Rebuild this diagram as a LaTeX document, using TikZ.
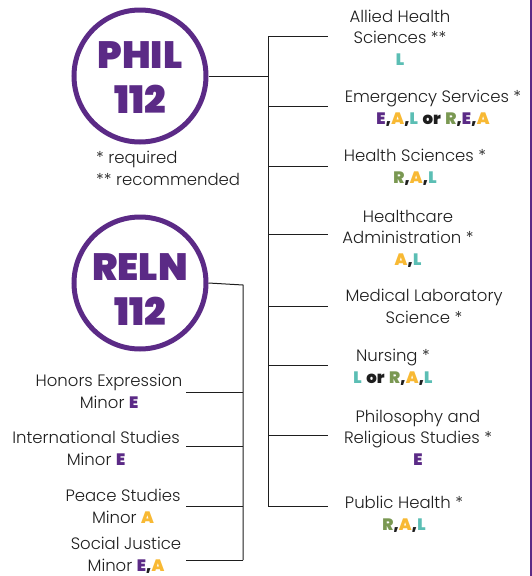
\documentclass[tikz,border=0pt]{standalone}
\usepackage{fontspec}
\setmainfont{Poppins Light}
\newfontfamily\heavy{Poppins Black}
\definecolor{cpurple}{RGB}{91,42,134}
\definecolor{cyellow}{RGB}{248,185,52}
\definecolor{cteal}{RGB}{91,190,180}
\definecolor{cgreen}{RGB}{122,152,82}
\definecolor{ink}{RGB}{30,30,30}
% coloured requirement letters
\newcommand\ltrfont{\heavy\fontsize{16.5}{21.5}\selectfont}
\newcommand\ltrE{{\ltrfont\color{cpurple}E}}
\newcommand\ltrA{{\ltrfont\color{cyellow}A}}
\newcommand\ltrL{{\ltrfont\color{cteal}L}}
\newcommand\ltrR{{\ltrfont\color{cgreen}R}}
\newcommand\cm{{\ltrfont\color{ink},}}
\newcommand\orw{{\ltrfont\color{ink}or}}
\begin{document}
\begin{tikzpicture}[x=1pt,y=-1pt,
  ring/.style={circle,draw=cpurple,line width=5pt,minimum size=132pt,inner sep=0pt},
  ringtext/.style={align=center,text=cpurple,inner sep=0pt,
    font=\heavy\fontsize{38}{45}\selectfont},
  item/.style={align=center,anchor=base,inner sep=0pt,text=ink,
    font=\fontsize{16.5}{21.5}\selectfont},
  wire/.style={draw=ink,line width=1pt}]
\useasboundingbox (0,0) rectangle (532,576);
% page edge rule
\draw[cpurple,line width=1.5pt] (531,0) -- (531,576);

% course circles
\node[ring] (phil) at (140,76) {};
\node[ringtext] (philname) at (140,78) {PHIL\\112};
\node[ring] (reln) at (140,283) {};
\node[ringtext] (relnname) at (140,290) {RELN\\112};

% legend (positions are last-line baselines)
\node[item,anchor=base west,align=left] (legend) at (96,185) {* required\\** recommended};

% majors reached from PHIL 112
\node[item] (ahs) at (400,65) {Allied Health\\Sciences **\\\ltrL};
\node[item] (ems) at (433,124) {Emergency Services *\\\ltrE\cm\ltrA\cm\ltrL{} \orw{} \ltrR\cm\ltrE\cm\ltrA};
\node[item] (hsc) at (415,183) {Health Sciences *\\\ltrR\cm\ltrA\cm\ltrL};
\node[item] (hca) at (408,265) {Healthcare\\Administration *\\\ltrA\cm\ltrL};
\node[item] (mls) at (424,323) {Medical Laboratory\\Science *};
\node[item] (nur) at (393,383) {Nursing *\\\ltrL{} \orw{} \ltrR\cm\ltrA\cm\ltrL};
\node[item] (prs) at (418,465) {Philosophy and\\Religious Studies *\\\ltrE};
\node[item] (pub) at (404,530) {Public Health *\\\ltrR\cm\ltrA\cm\ltrL};

% minors reached from RELN 112
\node[item] (hon) at (109,408) {Honors Expression\\Minor \ltrE};
\node[item] (ist) at (96,465) {International Studies\\Minor \ltrE};
\node[item] (pst) at (123,523) {Peace Studies\\Minor \ltrA};
\node[item] (sjm) at (126,571) {Social Justice\\Minor \ltrE\cm\ltrA};

% branch ends
\coordinate (ahsend) at (328,36);
\coordinate (emsend) at (328,106);
\coordinate (hscend) at (328,166);
\coordinate (hcaend) at (328,234);
\coordinate (mlsend) at (328,306);
\coordinate (nurend) at (328,365);
\coordinate (prsend) at (328,435);
\coordinate (pubend) at (328,506);
\coordinate (trunkR) at (268,76);

\coordinate (honend) at (186,392);
\coordinate (istend) at (186,446);
\coordinate (pstend) at (186,506);
\coordinate (sjmend) at (186,560);
\coordinate (trunkL) at (243,285);

% PHIL tree
\draw[wire] (phil.east) -- (trunkR);
\draw[wire] (trunkR |- ahsend) -- (trunkR |- pubend);
\foreach \e in {ahsend,emsend,hscend,hcaend,mlsend,nurend,prsend,pubend}
  \draw[wire] (trunkR |- \e) -- (\e);

% RELN tree
\draw[wire] (reln.east) -- (trunkL) -- (trunkL |- sjmend);
\foreach \e in {honend,istend,pstend,sjmend}
  \draw[wire] (\e) -- (trunkL |- \e);
\end{tikzpicture}
\end{document}
